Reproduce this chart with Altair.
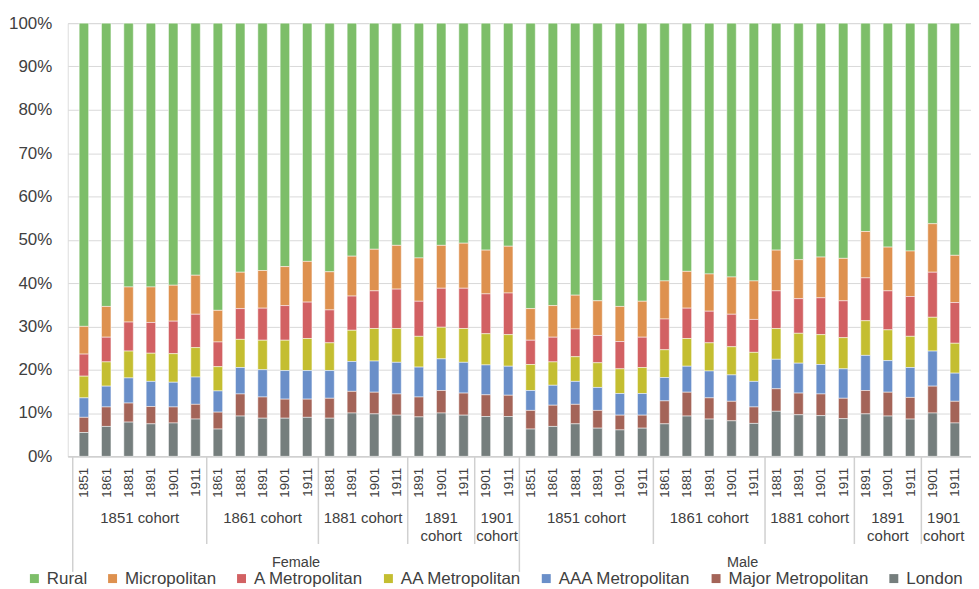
import json
import altair as alt
import pandas as pd

FONT = "Liberation Sans"
TXT = "#404040"

# ---- categories ----
genders = ["Female", "Male"]
cohort_labels = ["1851 cohort", "1861 cohort", "1881 cohort", "1891\ncohort", "1901\ncohort"]
cohort_years = [
    ["1851", "1861", "1881", "1891", "1901", "1911"],
    ["1861", "1881", "1891", "1901", "1911"],
    ["1881", "1891", "1901", "1911"],
    ["1891", "1901", "1911"],
    ["1901", "1911"],
]

series_names = ["Rural", "Micropolitan", "A Metropolitan", "AA Metropolitan",
                "AAA Metropolitan", "Major Metropolitan", "London"]
series_colors = ["#7dbe69", "#de914f", "#d26163", "#c4be31",
                 "#6a8fc9", "#a46458", "#757e7d"]

# ---- values (% share), bars in order Female 1851..1901 cohort, then Male ----
london = [5.5, 6.9, 7.9, 7.5, 7.7, 8.6, 6.3, 9.3, 8.8, 8.8, 9.0, 8.8, 10.0, 9.8, 9.5, 9.1, 10.0, 9.5, 9.2, 9.2,
          6.3, 6.9, 7.5, 6.5, 6.1, 6.5, 7.5, 9.3, 8.6, 8.2, 7.6, 10.4, 9.6, 9.4, 8.7, 9.8, 9.3, 8.6, 10.0, 7.7]
major_metro = [3.5, 4.5, 4.4, 4.0, 3.7, 3.4, 3.9, 5.1, 4.9, 4.4, 4.2, 4.6, 5.0, 5.0, 4.9, 4.6, 5.2, 5.1, 5.0, 4.9,
               4.3, 4.9, 4.5, 4.1, 3.4, 3.0, 5.3, 5.5, 4.9, 4.5, 3.8, 5.2, 5.0, 5.0, 4.7, 5.4, 5.5, 5.0, 6.2, 5.0]
aaa_metro = [4.5, 4.8, 5.8, 5.8, 5.7, 6.3, 4.9, 6.1, 6.3, 6.6, 6.6, 6.4, 6.9, 7.2, 7.3, 6.9, 7.3, 7.1, 6.9, 6.7,
             4.6, 4.6, 5.3, 5.3, 5.0, 5.0, 5.4, 6.0, 6.2, 6.1, 5.9, 6.8, 6.9, 6.8, 6.8, 8.1, 7.3, 6.9, 8.1, 6.5]
aa_metro = [5.0, 5.6, 6.2, 6.5, 6.6, 6.8, 5.6, 6.5, 6.8, 7.0, 7.4, 6.4, 7.2, 7.5, 7.8, 7.1, 7.3, 7.8, 7.2, 7.3,
            6.0, 5.4, 5.7, 5.7, 5.7, 6.0, 6.4, 6.4, 6.5, 6.5, 6.7, 7.1, 6.9, 6.9, 7.2, 8.0, 7.1, 7.2, 7.8, 6.9]
a_metro = [5.1, 5.7, 6.7, 7.1, 7.5, 7.7, 5.7, 7.1, 7.4, 8.0, 8.4, 7.6, 7.9, 8.7, 9.1, 8.1, 9.0, 9.3, 9.2, 9.6,
           5.6, 5.7, 6.4, 6.3, 6.3, 7.0, 7.1, 7.0, 7.3, 7.5, 7.6, 8.7, 8.0, 8.5, 8.5, 9.9, 9.0, 9.2, 10.4, 9.4]
micropolitan = [6.4, 7.1, 8.1, 8.2, 8.3, 9.0, 7.3, 8.4, 8.7, 9.0, 9.4, 8.8, 9.2, 9.6, 10.1, 10.0, 9.9, 10.4, 10.1, 10.8,
                7.3, 7.3, 7.8, 8.0, 8.1, 8.3, 8.8, 8.5, 8.6, 8.6, 8.9, 9.4, 9.0, 9.4, 9.8, 10.7, 10.1, 10.5, 11.2, 10.9]
rural = [70.0, 65.4, 60.9, 60.9, 60.5, 58.2, 66.3, 57.5, 57.1, 56.2, 55.0, 57.4, 53.8, 52.2, 51.3, 54.2, 51.3, 50.8, 52.4, 51.5,
         65.9, 65.2, 62.8, 64.1, 65.4, 64.2, 59.5, 57.3, 57.9, 58.6, 59.5, 52.4, 54.6, 54.0, 54.3, 48.1, 51.7, 52.6, 46.3, 53.6]

series_values = {
    "Rural": rural, "Micropolitan": micropolitan, "A Metropolitan": a_metro,
    "AA Metropolitan": aa_metro, "AAA Metropolitan": aaa_metro,
    "Major Metropolitan": major_metro, "London": london,
}

# ---- build tables ----
bar_years = []
cohort_rows = []
short_seps = []
long_seps = []
gender_rows = []
idx = 0
for g in genders:
    g_start = idx
    long_seps.append(idx - 0.5)
    for ci, (cl, yrs) in enumerate(zip(cohort_labels, cohort_years)):
        if ci > 0:
            short_seps.append(idx - 0.5)
        cohort_rows.append({"x": idx + (len(yrs) - 1) / 2, "label": cl})
        bar_years.extend(yrs)
        idx += len(yrs)
    gender_rows.append({"x": (g_start + idx - 1) / 2, "label": g})
n_bars = idx

rows = []
for i in range(n_bars):
    for k, s in enumerate(series_names):
        rows.append({"x": i, "series": s, "value": series_values[s][i],
                     "ord": len(series_names) - 1 - k})
df = pd.DataFrame(rows)

xscale = alt.Scale(domain=[-0.5, n_bars - 0.5], nice=False, zero=False)
xaxis = alt.Axis(values=list(range(n_bars)),
                 labelExpr=json.dumps(bar_years) + "[datum.value]",
                 labelAngle=-90, labelAlign="right", labelBaseline="middle",
                 labelFontSize=13.5, labelFont=FONT, labelColor=TXT,
                 labelPadding=11, ticks=False, tickSize=0, grid=False,
                 domainColor="#d0d0d0", domainWidth=1.5, title=None,
                 labelOverlap=False, labelFlush=False)
xenc = alt.X("x:Q", scale=xscale, axis=xaxis, title=None)

bars = alt.Chart(df).mark_bar(size=9.5, stroke="white", strokeWidth=0.5).encode(
    x=xenc,
    y=alt.Y("value:Q", stack="normalize",
            scale=alt.Scale(domain=[0, 1], nice=False),
            axis=alt.Axis(values=[i / 10 for i in range(11)], format=".0%",
                          labelFontSize=17, labelFont=FONT, labelColor=TXT,
                          labelPadding=16, ticks=False, domain=False,
                          gridColor="#d9d9d9", gridWidth=1, title=None)),
    color=alt.Color("series:N",
                    scale=alt.Scale(domain=series_names, range=series_colors),
                    legend=alt.Legend(orient="none", legendX=-42, legendY=549,
                                      direction="horizontal", columns=7,
                                      title=None, symbolType="square", symbolSize=81,
                                      symbolStrokeWidth=0, labelFontSize=17,
                                      labelFont=FONT, labelColor=TXT,
                                      columnPadding=16.5, labelOffset=4)),
    order=alt.Order("ord:Q", sort="ascending"),
)

short_df = pd.DataFrame({"x": short_seps})
long_df = pd.DataFrame({"x": long_seps})
rule_short = alt.Chart(short_df).mark_rule(color="#d0d0d0", strokeWidth=1.5).encode(
    x=xenc, y=alt.value(435), y2=alt.value(523))
rule_long = alt.Chart(long_df).mark_rule(color="#d0d0d0", strokeWidth=1.5).encode(
    x=xenc, y=alt.value(435), y2=alt.value(551))

cohort_text = alt.Chart(pd.DataFrame(cohort_rows)).mark_text(
    font=FONT, fontSize=15, color=TXT, align="center", baseline="alphabetic",
    lineBreak="\n", lineHeight=18).encode(
    x=xenc, y=alt.value(502), text="label:N")

gender_text = alt.Chart(pd.DataFrame(gender_rows)).mark_text(
    font=FONT, fontSize=14.5, color=TXT, align="center", baseline="alphabetic").encode(
    x=xenc, y=alt.value(546), text="label:N")

chart = alt.layer(bars, rule_short, rule_long, cohort_text, gender_text).properties(
    width=907, height=435,
    autosize=alt.AutoSizeParams(type="none"),
    padding={"left": 60, "top": 14, "right": 0, "bottom": 130},
).configure_view(stroke=None).configure(background="white")

chart.save("out.html", embed_options={"renderer": "svg", "actions": False})
